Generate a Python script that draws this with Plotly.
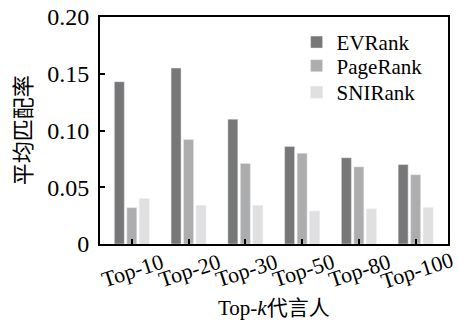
import plotly.graph_objects as go

categories = ["Top-10", "Top-20", "Top-30", "Top-50", "Top-80", "Top-100"]
evrank = [0.143, 0.155, 0.110, 0.086, 0.076, 0.070]
pagerank = [0.032, 0.092, 0.071, 0.080, 0.068, 0.061]
snirank = [0.040, 0.034, 0.034, 0.029, 0.031, 0.032]
y_tickvals = [0, 0.05, 0.10, 0.15, 0.20]
y_ticktext = ["0", "0.05", "0.10", "0.15", "0.20"]

serif = "Liberation Serif, Times New Roman, serif"
cjk = "Noto Sans CJK SC"

fig = go.Figure()
fig.add_trace(go.Bar(x=categories, y=evrank, name="EVRank", marker_color="#777777", legend="legend"))
fig.add_trace(go.Bar(x=categories, y=pagerank, name="PageRank", marker_color="#adadad", legend="legend2"))
fig.add_trace(go.Bar(x=categories, y=snirank, name="SNIRank", marker_color="#e0e0e0", legend="legend3"))

annotations = []
for c in categories:
    annotations.append(dict(x=c, xref="x", y=-0.118, yref="paper", text=c, showarrow=False,
                            textangle=-18, font=dict(family=serif, size=22, color="black"),
                            xanchor="center", yanchor="middle", xshift=1))
annotations.append(dict(x=0.5, xref="paper", y=-0.271, yref="paper",
                        text="Top-<i>k</i><span style='font-family:Noto Sans CJK SC'>代言人</span>",
                        showarrow=False, font=dict(family=serif, size=21, color="black"),
                        xanchor="center", yanchor="middle", borderpad=0))
annotations.append(dict(x=-0.225, xref="paper", y=0.5, yref="paper", text="平均匹配率",
                        showarrow=False, textangle=-90, font=dict(family=cjk, size=22, color="black"),
                        xanchor="center", yanchor="middle", xshift=-1))

leg_common = dict(xanchor="left", yanchor="middle", bgcolor="rgba(0,0,0,0)",
                  font=dict(family=serif, size=21, color="black"), itemwidth=30)

fig.update_layout(
    width=458, height=321,
    margin=dict(l=100, r=10, t=17, b=77, autoexpand=False),
    plot_bgcolor="white", paper_bgcolor="white",
    barmode="group", bargap=0.34, bargroupgap=0.2,
    font=dict(family=serif, size=21, color="black"),
    showlegend=True,
    legend=dict(x=0.565, y=0.888, **leg_common),
    legend2=dict(x=0.565, y=0.784, **leg_common),
    legend3=dict(x=0.565, y=0.667, **leg_common),
    annotations=annotations,
)
fig.update_xaxes(range=[-0.56, 5.57], showticklabels=False, ticks="inside", ticklen=5,
                 tickwidth=2, tickcolor="black", showline=True, linecolor="black", linewidth=2,
                 mirror=True, showgrid=False, automargin=False)
fig.update_yaxes(range=[0, 0.2], tickvals=y_tickvals, ticktext=y_ticktext, ticks="inside",
                 ticklen=5, tickwidth=2, tickcolor="black", showline=True, linecolor="black",
                 linewidth=2, mirror=True, showgrid=False, zeroline=False, automargin=False,
                 ticklabelstandoff=4,
                 tickfont=dict(family=serif, size=24, color="black"))

fig.write_html("out.html", config={"displayModeBar": False},
               post_script="document.body.style.margin='0px';document.body.style.overflow='hidden';")
